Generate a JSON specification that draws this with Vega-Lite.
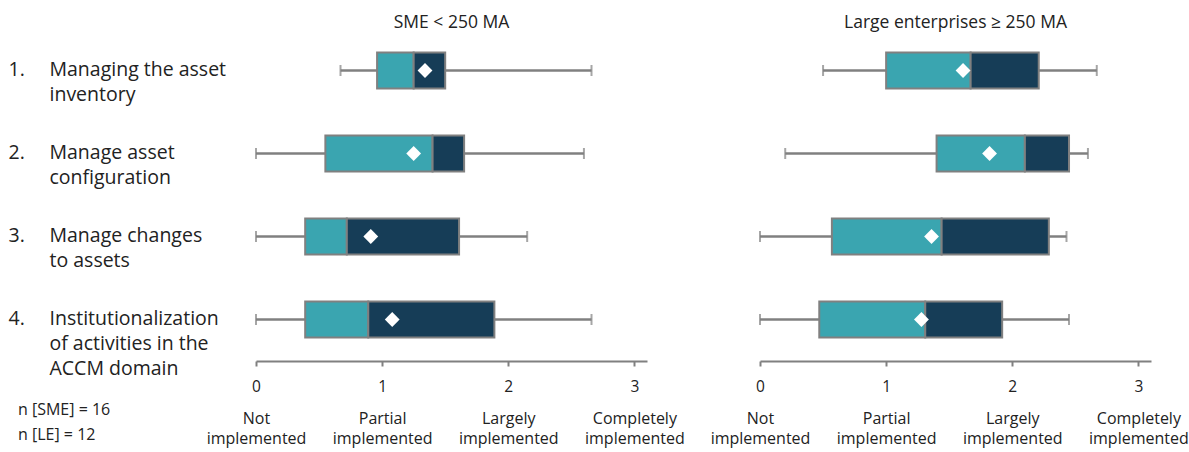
{
  "$schema": "https://vega.github.io/schema/vega-lite/v6.json",
  "background": "white",
  "padding": {"left": 8, "top": 13, "right": 0, "bottom": 5},
  "config": {
    "font": "Open Sans",
    "view": {"stroke": null},
    "axis": {"grid": false}
  },
  "data": {
    "values": [
      {"group": "SME", "task": "Managing the asset inventory", "low": 0.67, "q1": 0.96, "median": 1.25, "q3": 1.5, "high": 2.66, "mean": 1.34},
      {"group": "SME", "task": "Manage asset configuration", "low": 0.0, "q1": 0.55, "median": 1.4, "q3": 1.65, "high": 2.6, "mean": 1.25},
      {"group": "SME", "task": "Manage changes to assets", "low": 0.0, "q1": 0.39, "median": 0.72, "q3": 1.61, "high": 2.15, "mean": 0.91},
      {"group": "SME", "task": "Institutionalization of activities in the ACCM domain", "low": 0.0, "q1": 0.39, "median": 0.89, "q3": 1.89, "high": 2.66, "mean": 1.08},
      {"group": "LE", "task": "Managing the asset inventory", "low": 0.5, "q1": 1.0, "median": 1.67, "q3": 2.21, "high": 2.67, "mean": 1.61},
      {"group": "LE", "task": "Manage asset configuration", "low": 0.2, "q1": 1.4, "median": 2.1, "q3": 2.45, "high": 2.6, "mean": 1.82},
      {"group": "LE", "task": "Manage changes to assets", "low": 0.0, "q1": 0.57, "median": 1.44, "q3": 2.29, "high": 2.43, "mean": 1.36},
      {"group": "LE", "task": "Institutionalization of activities in the ACCM domain", "low": 0.0, "q1": 0.47, "median": 1.31, "q3": 1.92, "high": 2.45, "mean": 1.28}
    ]
  },
  "title": {
    "text": ["n [SME] = 16", "n [LE] = 12"],
    "orient": "bottom",
    "anchor": "start",
    "frame": "bounds",
    "offset": -44,
    "dx": 10,
    "fontSize": 16,
    "fontWeight": "normal",
    "color": "#222",
    "lineHeight": 25
  },
  "bounds": "flush",
  "spacing": 113,
  "hconcat": [
    {
      "width": 391,
      "height": 332,
      "title": {"text": "SME < 250 MA", "fontSize": 17.5, "fontWeight": "normal", "color": "#222", "offset": -2},
      "transform": [{"filter": "datum.group === 'SME'"}],
      "resolve": {"axis": {"x": "independent", "y": "independent"}},
      "layer": [
        {
          "mark": {"type": "rule", "color": "#808080", "strokeWidth": 2.5},
          "encoding": {
            "x": {"field": "low", "type": "quantitative", "scale": {"domain": [0, 3.1], "nice": false, "zero": false},
              "axis": {"orient": "bottom", "values": [0, 1, 2, 3], "format": "d", "title": null, "domainColor": "#808080", "domainWidth": 2, "tickColor": "#808080", "tickWidth": 2, "tickSize": 5, "labelPadding": 13, "labelFontSize": 15.5, "labelColor": "#222", "labelFlush": false, "labelOverlap": false}},
            "x2": {"field": "high"},
            "y": {"field": "task", "type": "nominal", "sort": null, "scale": {"paddingInner": 0, "paddingOuter": 0},
              "axis": {"orient": "left", "title": null, "domain": false, "ticks": false, "tickSize": 0, "labelAlign": "left", "labelBaseline": "top", "labelPadding": 248, "labelOffset": -10, "labelFontSize": 19.5, "labelColor": "#222",
                "labelExpr": "{'Managing the asset inventory': '1.', 'Manage asset configuration': '2.', 'Manage changes to assets': '3.', 'Institutionalization of activities in the ACCM domain': '4.'}[datum.value]"}}
          }
        },
        {
          "mark": {"type": "tick", "color": "#808080", "thickness": 2, "size": 11},
          "encoding": {
            "x": {"field": "low", "type": "quantitative",
              "axis": {"orient": "bottom", "values": [0, 1, 2, 3], "title": null, "domain": false, "ticks": false, "tickSize": 0, "labelPadding": 49, "labelFontSize": 16, "labelColor": "#222", "labelFlush": false, "labelOverlap": false, "labelLimit": 200,
                "labelExpr": "['Not', 'Partial', 'Largely', 'Completely'][datum.value]"}},
            "y": {"field": "task", "type": "nominal", "sort": null,
              "axis": {"orient": "left", "title": null, "domain": false, "ticks": false, "tickSize": 0, "labelAlign": "left", "labelBaseline": "top", "labelPadding": 207, "labelOffset": -10, "labelFontSize": 19.5, "labelLineHeight": 25, "labelColor": "#222", "labelLimit": 300,
                "labelExpr": "{'Managing the asset inventory': ['Managing the asset', 'inventory'], 'Manage asset configuration': ['Manage asset', 'configuration'], 'Manage changes to assets': ['Manage changes', 'to assets'], 'Institutionalization of activities in the ACCM domain': ['Institutionalization', 'of activities in the', 'ACCM domain']}[datum.value]"}}
          }
        },
        {
          "mark": {"type": "tick", "color": "#808080", "thickness": 2, "size": 11},
          "encoding": {
            "x": {"field": "high", "type": "quantitative",
              "axis": {"orient": "bottom", "values": [0, 1, 2, 3], "title": null, "domain": false, "ticks": false, "tickSize": 0, "labelPadding": 69, "labelFontSize": 16, "labelColor": "#222", "labelFlush": false, "labelOverlap": false, "labelLimit": 200,
                "labelExpr": "'implemented'"}},
            "y": {"field": "task", "type": "nominal", "sort": null, "axis": null}
          }
        },
        {
          "mark": {"type": "bar", "color": "#3AA5B0", "stroke": "#808080", "strokeWidth": 2, "size": 36},
          "encoding": {
            "x": {"field": "q1", "type": "quantitative", "axis": null},
            "x2": {"field": "median"},
            "y": {"field": "task", "type": "nominal", "sort": null, "axis": null}
          }
        },
        {
          "mark": {"type": "bar", "color": "#163D57", "stroke": "#808080", "strokeWidth": 2, "size": 36},
          "encoding": {
            "x": {"field": "median", "type": "quantitative", "axis": null},
            "x2": {"field": "q3"},
            "y": {"field": "task", "type": "nominal", "sort": null, "axis": null}
          }
        },
        {
          "mark": {"type": "point", "shape": "diamond", "filled": true, "color": "white", "opacity": 1, "size": 220},
          "encoding": {
            "x": {"field": "mean", "type": "quantitative", "axis": null},
            "y": {"field": "task", "type": "nominal", "sort": null, "axis": null}
          }
        }
      ]
    },
    {
      "width": 391,
      "height": 332,
      "title": {"text": "Large enterprises ≥ 250 MA", "fontSize": 17.5, "fontWeight": "normal", "color": "#222", "offset": -2},
      "transform": [{"filter": "datum.group === 'LE'"}],
      "resolve": {"axis": {"x": "independent", "y": "independent"}},
      "layer": [
        {
          "mark": {"type": "rule", "color": "#808080", "strokeWidth": 2.5},
          "encoding": {
            "x": {"field": "low", "type": "quantitative", "scale": {"domain": [0, 3.1], "nice": false, "zero": false},
              "axis": {"orient": "bottom", "values": [0, 1, 2, 3], "format": "d", "title": null, "domainColor": "#808080", "domainWidth": 2, "tickColor": "#808080", "tickWidth": 2, "tickSize": 5, "labelPadding": 13, "labelFontSize": 15.5, "labelColor": "#222", "labelFlush": false, "labelOverlap": false}},
            "x2": {"field": "high"},
            "y": {"field": "task", "type": "nominal", "sort": null, "scale": {"paddingInner": 0, "paddingOuter": 0}, "axis": null}
          }
        },
        {
          "mark": {"type": "tick", "color": "#808080", "thickness": 2, "size": 11},
          "encoding": {
            "x": {"field": "low", "type": "quantitative",
              "axis": {"orient": "bottom", "values": [0, 1, 2, 3], "title": null, "domain": false, "ticks": false, "tickSize": 0, "labelPadding": 49, "labelFontSize": 16, "labelColor": "#222", "labelFlush": false, "labelOverlap": false, "labelLimit": 200,
                "labelExpr": "['Not', 'Partial', 'Largely', 'Completely'][datum.value]"}},
            "y": {"field": "task", "type": "nominal", "sort": null, "axis": null}
          }
        },
        {
          "mark": {"type": "tick", "color": "#808080", "thickness": 2, "size": 11},
          "encoding": {
            "x": {"field": "high", "type": "quantitative",
              "axis": {"orient": "bottom", "values": [0, 1, 2, 3], "title": null, "domain": false, "ticks": false, "tickSize": 0, "labelPadding": 69, "labelFontSize": 16, "labelColor": "#222", "labelFlush": false, "labelOverlap": false, "labelLimit": 200,
                "labelExpr": "'implemented'"}},
            "y": {"field": "task", "type": "nominal", "sort": null, "axis": null}
          }
        },
        {
          "mark": {"type": "bar", "color": "#3AA5B0", "stroke": "#808080", "strokeWidth": 2, "size": 36},
          "encoding": {
            "x": {"field": "q1", "type": "quantitative", "axis": null},
            "x2": {"field": "median"},
            "y": {"field": "task", "type": "nominal", "sort": null, "axis": null}
          }
        },
        {
          "mark": {"type": "bar", "color": "#163D57", "stroke": "#808080", "strokeWidth": 2, "size": 36},
          "encoding": {
            "x": {"field": "median", "type": "quantitative", "axis": null},
            "x2": {"field": "q3"},
            "y": {"field": "task", "type": "nominal", "sort": null, "axis": null}
          }
        },
        {
          "mark": {"type": "point", "shape": "diamond", "filled": true, "color": "white", "opacity": 1, "size": 220},
          "encoding": {
            "x": {"field": "mean", "type": "quantitative", "axis": null},
            "y": {"field": "task", "type": "nominal", "sort": null, "axis": null}
          }
        }
      ]
    }
  ]
}
